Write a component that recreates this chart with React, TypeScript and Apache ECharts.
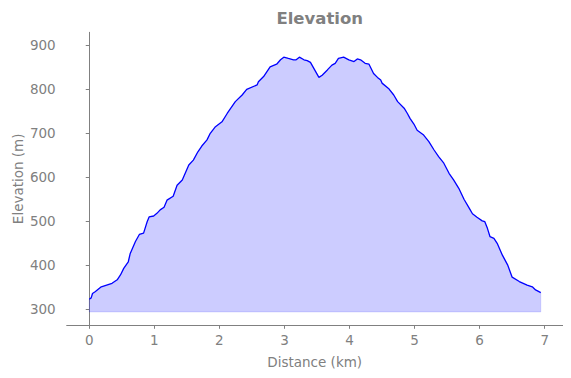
import React, { useEffect, useRef } from "react";
import * as echarts from "echarts";

const distanceKm = [
  0, 0.03, 0.05, 0.09, 0.185, 0.35, 0.43, 0.48, 0.53, 0.6, 0.63, 0.71, 0.77, 0.835, 0.89, 0.92, 0.99,
  1.04, 1.09, 1.15, 1.195, 1.29, 1.35, 1.43, 1.53, 1.6, 1.67, 1.73, 1.81, 1.86, 1.94, 2.04, 2.12,
  2.245, 2.35, 2.42, 2.58, 2.6, 2.68, 2.78, 2.88, 2.94, 2.99, 3.06, 3.14, 3.18, 3.23, 3.3, 3.35,
  3.4, 3.48, 3.53, 3.58, 3.66, 3.73, 3.78, 3.83, 3.91, 3.99, 4.07, 4.12, 4.17, 4.24, 4.3, 4.37,
  4.43, 4.48, 4.5, 4.6, 4.68, 4.74, 4.84, 4.89, 4.93, 4.99, 5.04, 5.14, 5.22, 5.3, 5.37, 5.45,
  5.53, 5.6, 5.68, 5.76, 5.84, 5.89, 5.96, 6.04, 6.08, 6.12, 6.16, 6.22, 6.27, 6.35, 6.43, 6.5,
  6.61, 6.73, 6.81, 6.86, 6.94,
];
const elevationM = [
  323, 326, 336, 340, 351, 359, 367, 378, 393, 408, 427, 454, 470, 473, 499, 510, 512,
  518, 526, 532, 548, 557, 582, 594, 628, 639, 658, 671, 685, 700, 715, 726, 745,
  772, 787, 800, 810, 817, 829, 851, 857, 867, 873, 870, 867, 867, 873, 867, 865,
  861, 840, 827, 832, 844, 855, 859, 870, 873, 867, 863, 869, 867, 859, 857, 836,
  827, 821, 814, 802, 787, 772, 757, 745, 734, 721, 707, 696, 681, 662, 647, 632,
  609, 594, 575, 550, 530, 517, 509, 501, 499, 484, 465, 461, 450, 423, 401, 373,
  363, 355, 351, 344, 338,
];
const xTicks = [0, 1, 2, 3, 4, 5, 6, 7];
const yTicks = [300, 400, 500, 600, 700, 800, 900];
const fillBase = 294;

const GRAY = "#808080";
const FONT = "DejaVu Sans";

export default function App() {
  const ref = useRef<HTMLDivElement>(null);
  useEffect(() => {
    if (!ref.current) return;
    const chart = echarts.init(ref.current, null, { renderer: "svg" });
    const data = distanceKm.map((d, i) => [d, elevationM[i]]);
    const n = distanceKm.length;
    const outline = [
      [distanceKm[0], elevationM[0]],
      [distanceKm[0], fillBase],
      [distanceKm[n - 1], fillBase],
      [distanceKm[n - 1], elevationM[n - 1]],
    ];
    chart.setOption({
      animation: false,
      title: {
        text: "Elevation",
        left: 314.7,
        textAlign: "center",
        top: 5,
        textStyle: { color: GRAY, fontFamily: FONT, fontSize: 16.5, fontWeight: "bold" },
      },
      grid: {
        left: 66.7,
        right: 8.3,
        top: 32.3,
        bottom: 52.7,
        containLabel: false,
        outerBoundsMode: "none",
      },
      xAxis: {
        type: "value",
        min: -0.3465,
        max: 7.277,
        name: "Distance (km)",
        nameLocation: "middle",
        nameGap: 30,
        nameMoveOverlap: false,
        nameTextStyle: { color: GRAY, fontFamily: FONT, fontSize: 13.5 },
        axisLine: { show: true, lineStyle: { color: GRAY, width: 1 } },
        axisTick: { show: true, length: 3.5, customValues: xTicks, lineStyle: { color: GRAY } },
        axisLabel: { customValues: xTicks, color: GRAY, fontFamily: FONT, fontSize: 13.5, margin: 8 },
        splitLine: { show: false },
      },
      yAxis: {
        type: "value",
        min: 263.6,
        max: 929.5,
        name: "Elevation (m)",
        nameLocation: "middle",
        nameGap: 42,
        nameMoveOverlap: false,
        nameTextStyle: { color: GRAY, fontFamily: FONT, fontSize: 13.5 },
        axisLine: { show: true, lineStyle: { color: GRAY, width: 1 } },
        axisTick: { show: true, length: 3.5, customValues: yTicks, lineStyle: { color: GRAY } },
        axisLabel: { customValues: yTicks, color: GRAY, fontFamily: FONT, fontSize: 13.5, margin: 11 },
        splitLine: { show: false },
      },
      series: [
        {
          type: "line",
          data,
          symbol: "none",
          lineStyle: { color: "#0000ff", width: 1.3 },
          areaStyle: { color: "rgba(0,0,255,0.2)", origin: fillBase, opacity: 1 },
          z: 3,
        },
        {
          type: "line",
          data: outline,
          symbol: "none",
          lineStyle: { color: "rgba(0,0,255,0.12)", width: 1 },
          z: 2,
          silent: true,
        },
      ],
    });
    return () => chart.dispose();
  }, []);
  return <div ref={ref} style={{ width: 571, height: 378, margin: -8 }} />;
}
